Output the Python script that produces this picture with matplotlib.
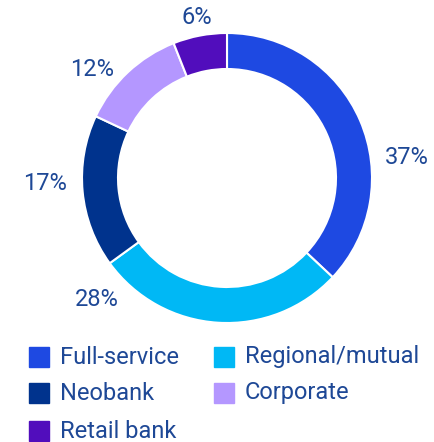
import matplotlib.pyplot as plt
from matplotlib.patches import Rectangle

labels = ['Full-service', 'Regional/mutual', 'Neobank', 'Corporate', 'Retail bank']
values = [37, 28, 17, 12, 6]
colors = ['#1E49E2', '#00B8F5', '#00338D', '#B497FF', '#510DBC']
text_color = '#1E4896'

# label spots (pixel coords, y measured from top)
pct_pos = [(407, 158), (97, 300), (45, 183), (92, 70), (197, 18)]
legend_pos = [(29, 357), (214, 357), (29, 393), (214, 393), (29, 431)]

W, H = 434, 442
fig = plt.figure(figsize=(W / 100, H / 100), dpi=100)
ax = fig.add_axes([0, 0, 1, 1])
ax.set_xlim(0, W)
ax.set_ylim(0, H)
ax.axis('off')

ax.pie(values, colors=colors, startangle=90, counterclock=False,
       center=(227, H - 178), radius=145, frame=True,
       wedgeprops=dict(width=36, edgecolor='white', linewidth=1.5))
ax.set_xlim(0, W)
ax.set_ylim(0, H)
ax.set_aspect('equal')
ax.axis('off')

font = dict(family='Roboto', fontsize=17, color=text_color)

for v, (x, y) in zip(values, pct_pos):
    ax.text(x, H - y, f'{v}%', ha='center', va='center', **font)

for lab, c, (x, y) in zip(labels, colors, legend_pos):
    ax.add_patch(Rectangle((x, H - y - 10), 20, 20, color=c))
    ax.text(x + 31, H - y, lab, ha='left', va='center', **font)

fig.savefig('out.png', dpi=100)
